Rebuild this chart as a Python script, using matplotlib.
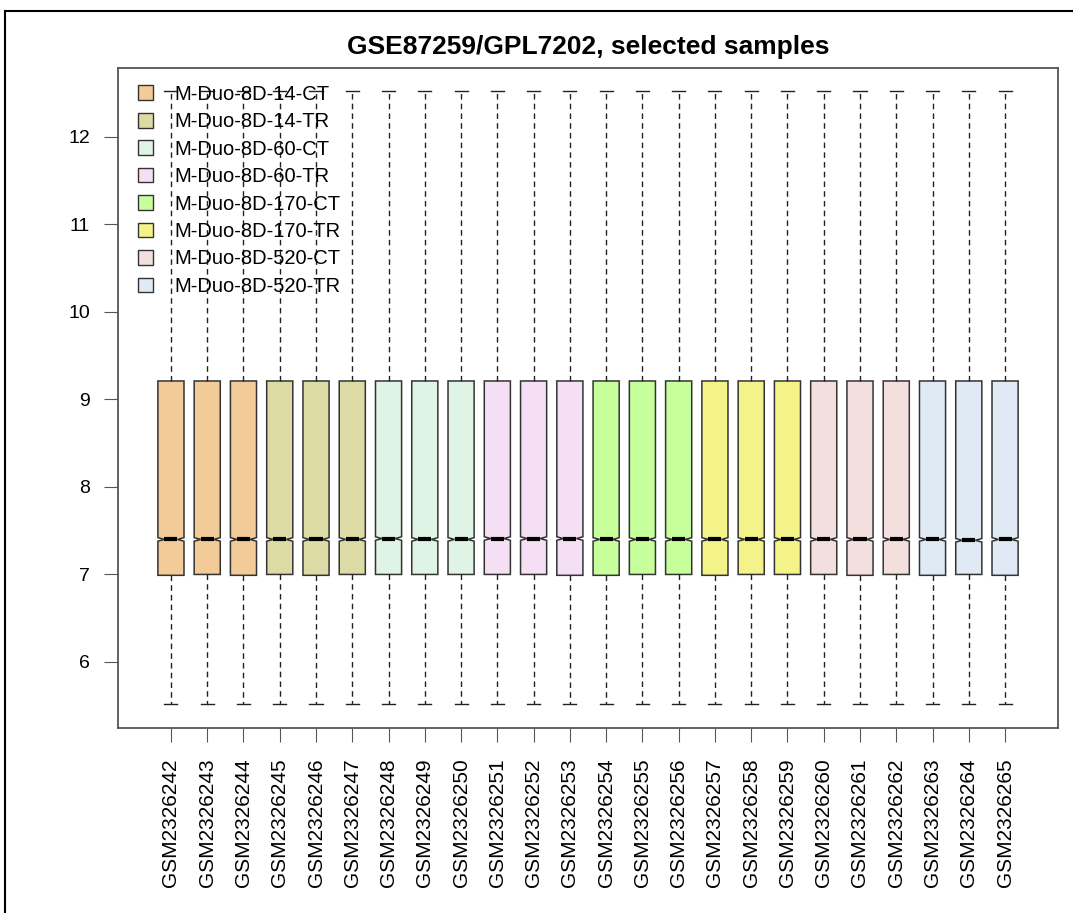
import matplotlib
matplotlib.use("Agg")
import matplotlib.pyplot as plt
from matplotlib.patches import Patch
from matplotlib.lines import Line2D

plt.rcParams['font.family'] = ['Liberation Sans', 'DejaVu Sans']

samples = ["GSM2326242", "GSM2326243", "GSM2326244", "GSM2326245", "GSM2326246",
           "GSM2326247", "GSM2326248", "GSM2326249", "GSM2326250", "GSM2326251",
           "GSM2326252", "GSM2326253", "GSM2326254", "GSM2326255", "GSM2326256",
           "GSM2326257", "GSM2326258", "GSM2326259", "GSM2326260", "GSM2326261",
           "GSM2326262", "GSM2326263", "GSM2326264", "GSM2326265"]
groups = ["M-Duo-8D-14-CT", "M-Duo-8D-14-TR", "M-Duo-8D-60-CT", "M-Duo-8D-60-TR",
          "M-Duo-8D-170-CT", "M-Duo-8D-170-TR", "M-Duo-8D-520-CT", "M-Duo-8D-520-TR"]
group_of_sample = [0, 0, 0, 1, 1, 1, 2, 2, 2, 3, 3, 3,
                   4, 4, 4, 5, 5, 5, 6, 6, 6, 7, 7, 7]
group_colors = ["#f2cb98", "#dcdaa5", "#dff4e4", "#f4dff4",
                "#c6ff9c", "#f4f389", "#f4dfdf", "#dfeaf4"]

whislo = [5.52] * 24
q1 = [6.99, 7.00, 6.99, 7.00, 6.99, 7.00, 7.00, 7.00, 7.00, 7.00, 7.00, 6.99,
      6.99, 7.00, 7.00, 6.99, 7.00, 7.00, 7.00, 6.99, 7.00, 6.99, 7.00, 6.99]
med = [7.40, 7.40, 7.40, 7.40, 7.40, 7.40, 7.41, 7.40, 7.40, 7.41, 7.41, 7.41,
       7.40, 7.40, 7.40, 7.40, 7.40, 7.40, 7.40, 7.40, 7.40, 7.40, 7.39, 7.40]
q3 = [9.21] * 24
whishi = [12.52] * 24

fig = plt.figure(figsize=(10.73, 9.13), dpi=100)
ax = fig.add_axes([118 / 1073, 185 / 913, 940 / 1073, 660 / 913])

stats = []
for i in range(len(samples)):
    stats.append(dict(med=med[i], q1=q1[i], q3=q3[i], whislo=whislo[i], whishi=whishi[i],
                      cilo=med[i] - 0.02, cihi=med[i] + 0.02, fliers=[]))

bp = ax.bxp(stats, positions=range(1, len(samples) + 1), widths=0.72, shownotches=True,
            patch_artist=True, showfliers=False,
            boxprops=dict(edgecolor="#333333", linewidth=1.1),
            whiskerprops=dict(color="#222222", linestyle=(0, (4, 3)), linewidth=1),
            capprops=dict(color="#222222", linewidth=1),
            medianprops=dict(color="black", linewidth=3))
for box, g in zip(bp['boxes'], group_of_sample):
    box.set_facecolor(group_colors[g])

ax.set_xlim(-0.46, 25.46)
ax.set_ylim(5.246, 12.785)
ax.set_xticks(range(1, len(samples) + 1))
ax.set_xticklabels(samples, rotation=90, fontsize=15)
ax.set_yticks([6, 7, 8, 9, 10, 11, 12])
ax.tick_params(axis='y', labelsize=14, length=10, pad=10, color="#555555")
ax.tick_params(axis='x', length=10, pad=12, color="#555555")
for s in ax.spines.values():
    s.set_color("#555555")
    s.set_linewidth(1.3)

ax.set_title("GSE87259/GPL7202, selected samples", fontsize=19, fontweight='bold', pad=10)

handles = [Patch(facecolor=c, edgecolor="#333333", linewidth=1) for c in group_colors]
ax.legend(handles, groups, loc='upper left', bbox_to_anchor=(0.008, 0.993), frameon=False,
          fontsize=14.5, handlelength=0.75, handleheight=0.75, handletextpad=1.1,
          labelspacing=0.42, borderaxespad=0.2)

fig.add_artist(Line2D([5 / 1073, 5 / 1073], [0, 1 - 11 / 913], color="black", linewidth=1.5))
fig.add_artist(Line2D([5 / 1073, 1], [1 - 11 / 913, 1 - 11 / 913], color="black", linewidth=1.5))

fig.savefig("out.png", dpi=100)
